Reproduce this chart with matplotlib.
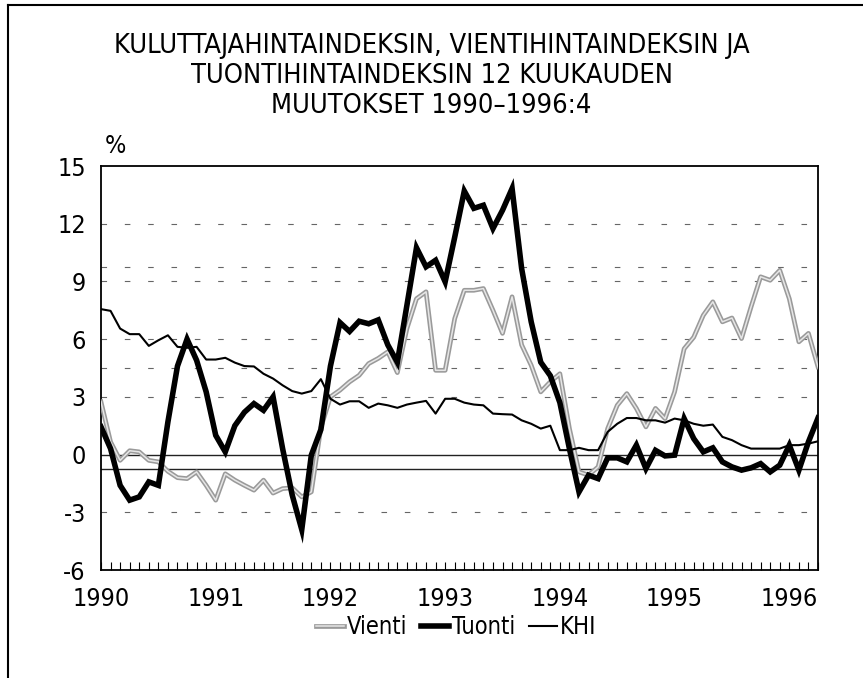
import matplotlib
matplotlib.use("Agg")
from matplotlib import pyplot as plt
from matplotlib.lines import Line2D
import matplotlib.patheffects as pe
import numpy as np

plt.rcParams['font.family'] = ['DejaVu Sans']
plt.rcParams['font.stretch'] = 'condensed'
plt.rcParams['axes.unicode_minus'] = False

# monthly 12-month changes, Jan 1990 .. Apr 1996
years = ["1990", "1991", "1992", "1993", "1994", "1995", "1996"]

vienti = [2.74, 0.66, -0.3, 0.2, 0.14, -0.3, -0.38, -0.87, -1.2, -1.25, -0.9, -1.6,
          -2.37, -1.0, -1.33, -1.6, -1.85, -1.33, -2.0, -1.77, -1.73, -2.2, -1.94, 1.4,
          3.0, 3.35, 3.78, 4.12, 4.73, 5.0, 5.34, 4.26, 6.55, 8.1, 8.46, 4.38,
          4.38, 7.07, 8.54, 8.54, 8.63, 7.5, 6.3, 8.2, 5.7, 4.64, 3.26, 3.78,
          4.2, 1.35, -0.9, -1.07, -0.64, 1.35, 2.56, 3.17, 2.4, 1.44, 2.4, 1.87,
          3.26, 5.5, 6.1, 7.24, 7.94, 6.9, 7.1, 6.03, 7.68, 9.24, 9.06, 9.58,
          8.1, 5.86, 6.3, 4.56]

tuonti = [1.44, 0.31, -1.6, -2.37, -2.2, -1.42, -1.6, 1.7, 4.6, 6.0, 4.9, 3.26,
          1.0, 0.14, 1.5, 2.2, 2.65, 2.3, 3.0, 0.3, -2.1, -3.9, -0.03, 1.3,
          4.6, 6.86, 6.4, 6.93, 6.8, 7.0, 5.7, 4.8, 7.76, 10.75, 9.76, 10.1,
          8.98, 11.3, 13.7, 12.8, 12.96, 11.75, 12.7, 13.83, 9.67, 6.9, 4.8, 4.1,
          2.7, 0.3, -1.94, -1.07, -1.25, -0.17, -0.17, -0.38, 0.49, -0.73, 0.22, -0.07,
          -0.03, 1.87, 0.83, 0.14, 0.35, -0.38, -0.64, -0.81, -0.69, -0.47, -0.9, -0.55,
          0.49, -0.81, 0.66, 1.9]

khi = [7.56, 7.47, 6.55, 6.26, 6.26, 5.65, 5.94, 6.2, 5.6, 5.55, 5.6, 4.94,
       4.94, 5.03, 4.78, 4.6, 4.58, 4.2, 3.95, 3.6, 3.3, 3.17, 3.3, 3.92,
       2.9, 2.6, 2.77, 2.77, 2.43, 2.65, 2.56, 2.43, 2.6, 2.7, 2.79, 2.13,
       2.9, 2.9, 2.7, 2.6, 2.56, 2.13, 2.1, 2.08, 1.78, 1.6, 1.35, 1.5,
       0.23, 0.23, 0.35, 0.23, 0.23, 1.18, 1.6, 1.9, 1.9, 1.78, 1.78, 1.66,
       1.87, 1.78, 1.6, 1.5, 1.56, 0.92, 0.75, 0.49, 0.31, 0.31, 0.31, 0.31,
       0.49, 0.49, 0.57, 0.69]

grid_levels = [12, 9.75, 9, 6, 4.5, 3, -3]
solid_levels = [0, -0.75]

months = np.arange(len(khi))

fig = plt.figure(figsize=(8.63, 6.78), dpi=100)
ax = fig.add_axes([101/863, 1-570/678, 717/863, 404/678])

for g in grid_levels:
    ax.axhline(g, color="#666666", lw=0.8, linestyle=(0, (5, 16)), zorder=1)
for s in solid_levels:
    ax.axhline(s, color="#222222", lw=1.0, zorder=1)

ax.plot(months, vienti, color="#e6e6e6", lw=1.1, zorder=3, label="Vienti",
        path_effects=[pe.Stroke(linewidth=3.4, foreground="#9a9a9a"), pe.Normal()])
ax.plot(months, khi, color="black", lw=1.5, zorder=4, label="KHI")
ax.plot(months, tuonti, color="black", lw=4.0, zorder=5, label="Tuonti",
        solid_joinstyle="miter")

ax.set_xlim(0, len(khi) - 1)
ax.set_ylim(-6, 15)
ax.set_yticks(range(-6, 16, 3))
ax.set_xticks(range(0, len(khi), 12))
ax.set_xticklabels(years)
ax.set_xticks(months, minor=True)
ax.tick_params(axis="y", length=0, pad=11, labelsize=18)
ax.tick_params(axis="x", which="both", direction="in", length=6, width=0.8,
               pad=12, labelsize=18)
for sp in ax.spines.values():
    sp.set_linewidth(1.3)

ax.text(0.005, 1.05, "%", transform=ax.transAxes, fontsize=18, ha="left", va="center")

fig.text(0.5, 1-76/678,
         "KULUTTAJAHINTAINDEKSIN, VIENTIHINTAINDEKSIN JA\n"
         "TUONTIHINTAINDEKSIN 12 KUUKAUDEN\n"
         "MUUTOKSET 1990\u20131996:4",
         ha="center", va="center", fontsize=19.5, linespacing=1.22)

h, l = ax.get_legend_handles_labels()
order = [0, 2, 1]
fig.legend([h[i] for i in order], [l[i] for i in order], loc="center",
           bbox_to_anchor=(456/863, 1-627/678), ncol=3, frameon=False, fontsize=17,
           handlelength=1.2, handletextpad=0.1, columnspacing=0.6)

# outer frame (top and left only)
fig.add_artist(Line2D([8/863, 8/863], [0, 1-5/678], color="black", lw=1.5))
fig.add_artist(Line2D([8/863, 1], [1-5/678, 1-5/678], color="black", lw=1.5))

fig.savefig("out.png", dpi=100)
